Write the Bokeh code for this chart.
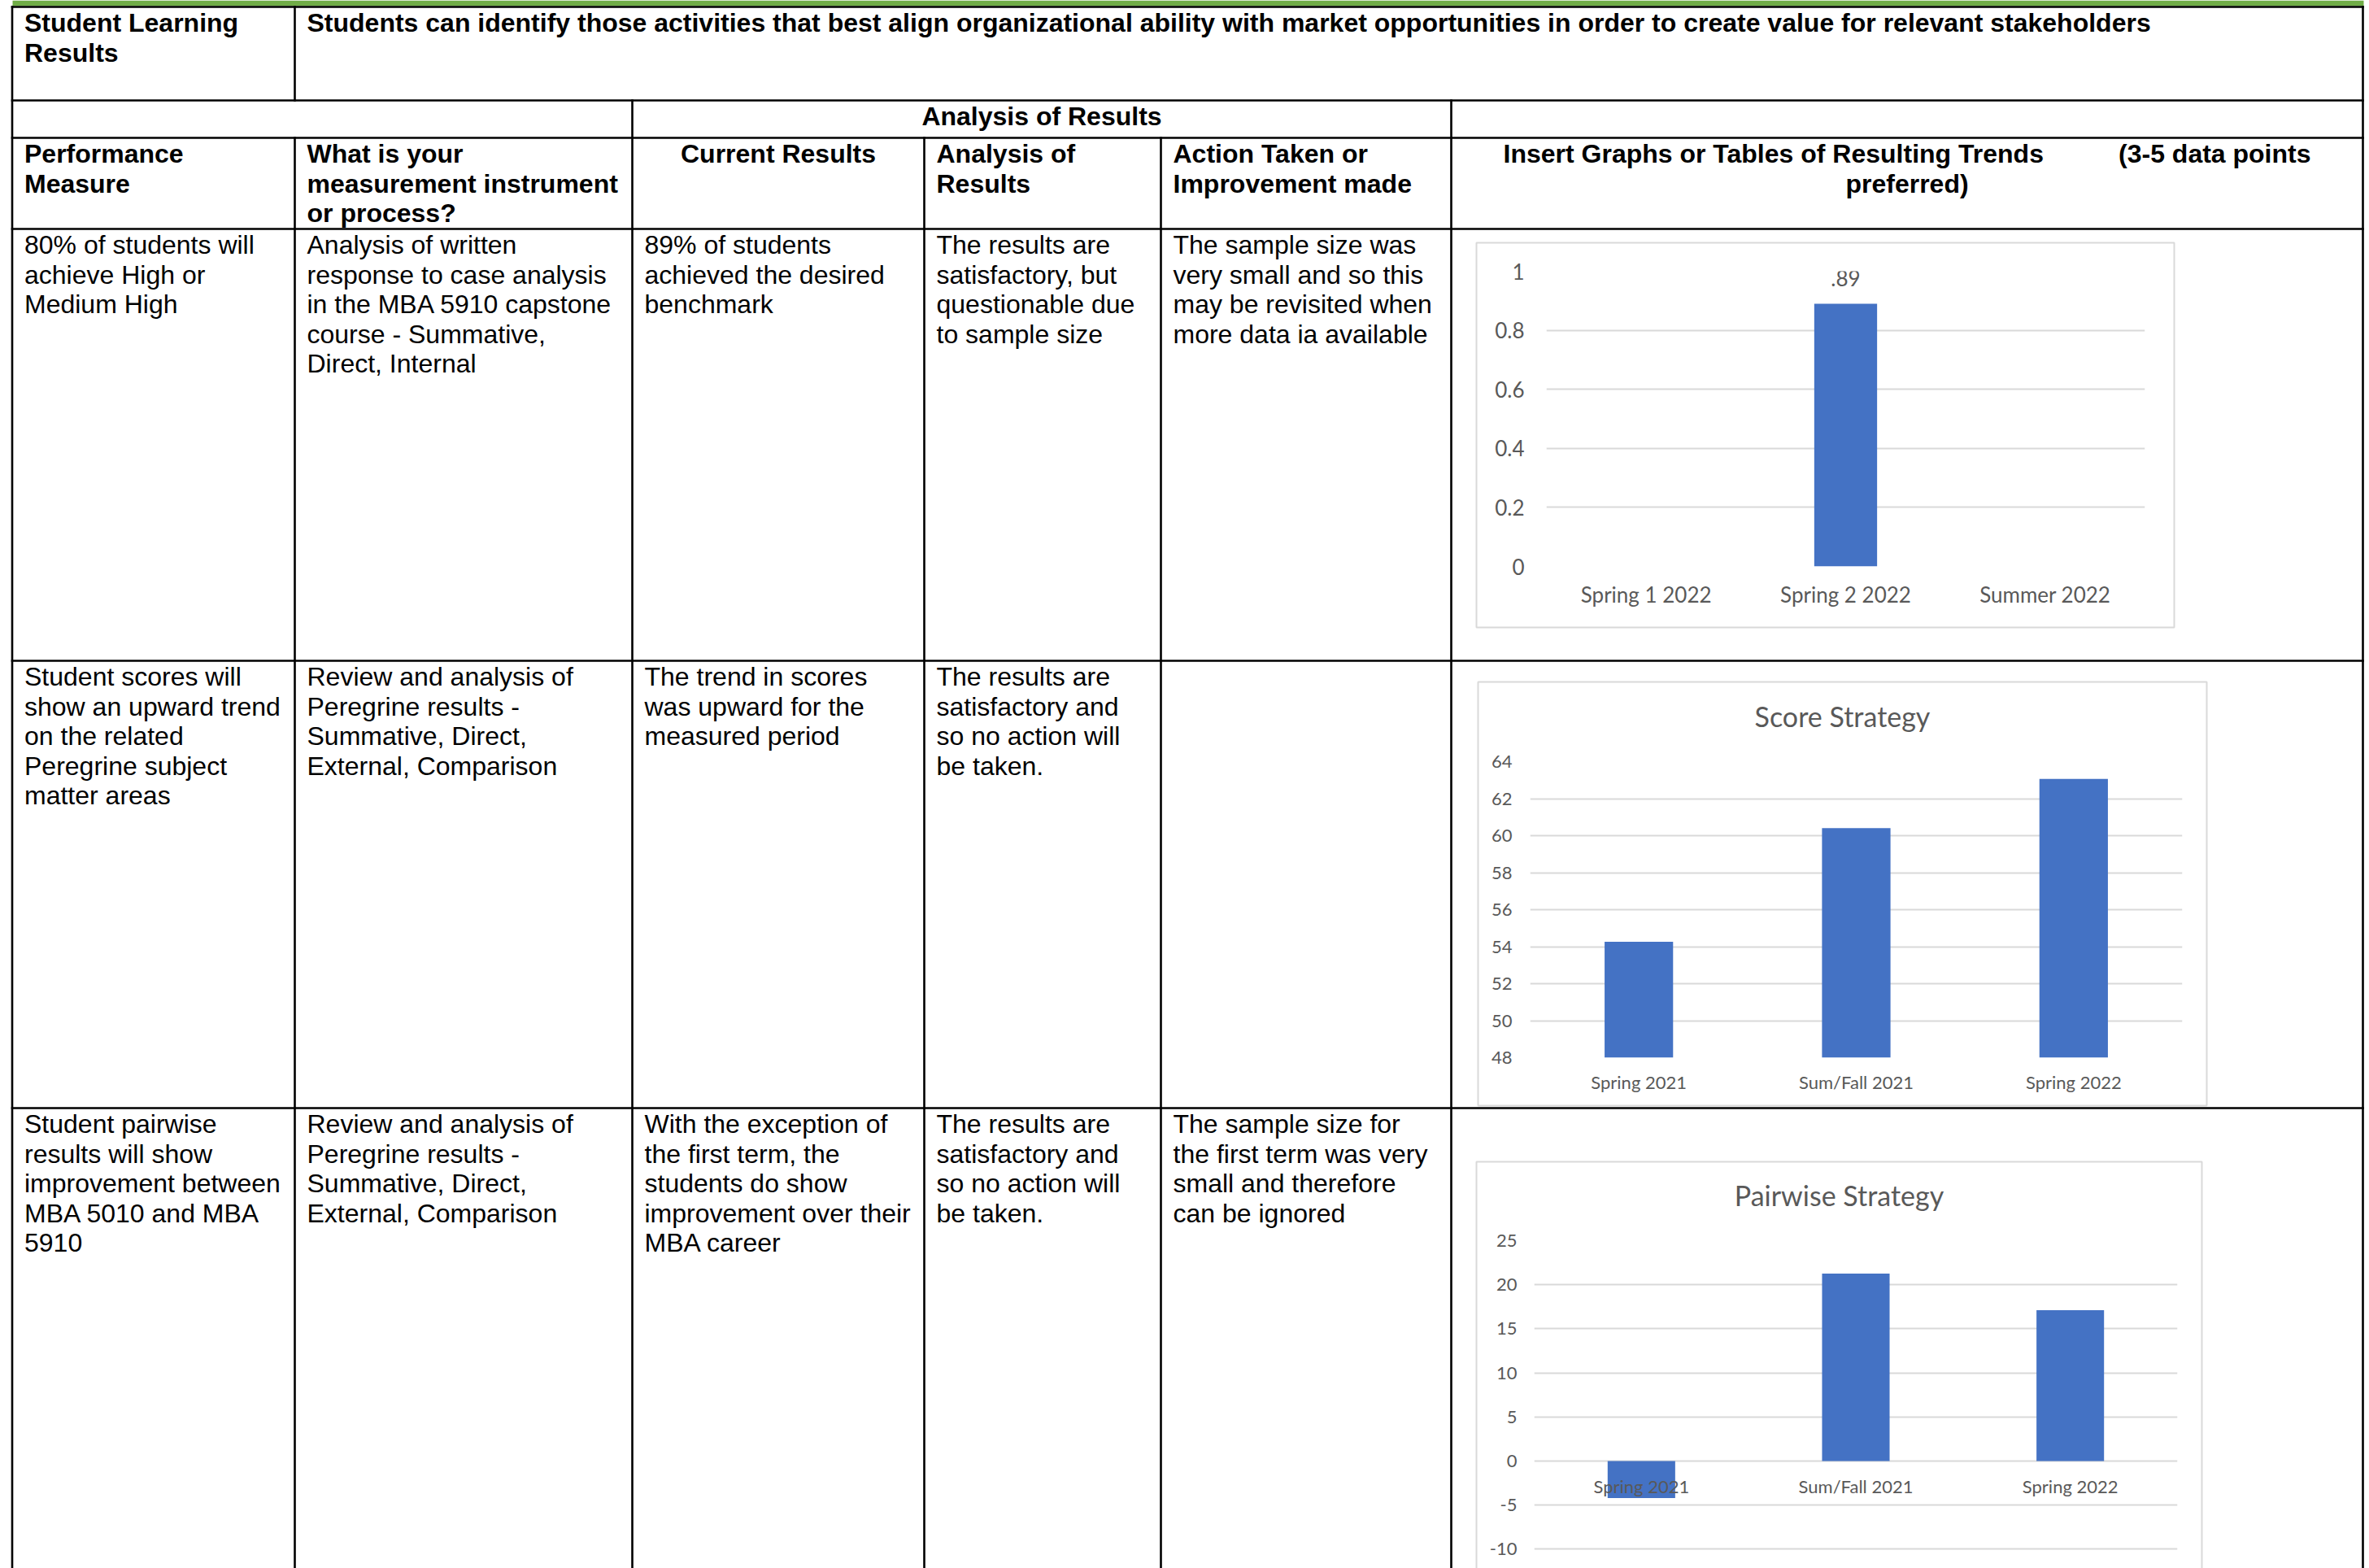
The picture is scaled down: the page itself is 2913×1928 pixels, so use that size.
import math
from bokeh.plotting import figure
from bokeh.layouts import column
from bokeh.models import ColumnDataSource, Range1d, FactorRange, FixedTicker, PrintfTickFormatter
from bokeh.core.properties import value
from bokeh.embed import file_html
from bokeh.resources import INLINE

W, H = 2913, 1928

# ---------------- data ----------------
outcome_label = ["Student Learning", "Results"]
outcome_text = ["Students can identify those activities that best align organizational "
                "ability with market opportunities in order to create value for relevant stakeholders"]
group_label = ["Analysis of Results"]
header_cells = [
    ["Performance", "Measure"],
    ["What is your", "measurement instrument", "or process?"],
    ["Current Results"],
    ["Analysis of", "Results"],
    ["Action Taken or", "Improvement made"],
]
graph_header_left = "Insert Graphs or Tables of Resulting Trends"
graph_header_right = "(3-5 data points"
graph_header_line2 = "preferred)"

measures = [
    ["80% of students will", "achieve High or", "Medium High"],
    ["Student scores will", "show an upward trend", "on the related", "Peregrine subject", "matter areas"],
    ["Student pairwise", "results will show", "improvement between", "MBA 5010 and MBA", "5910"],
]
instruments = [
    ["Analysis of written", "response to case analysis", "in the MBA 5910 capstone",
     "course - Summative,", "Direct, Internal"],
    ["Review and analysis of", "Peregrine results -", "Summative, Direct,", "External, Comparison"],
    ["Review and analysis of", "Peregrine results -", "Summative, Direct,", "External, Comparison"],
]
current_results = [
    ["89% of students", "achieved the desired", "benchmark"],
    ["The trend in scores", "was upward for the", "measured period"],
    ["With the exception of", "the first term, the", "students do show",
     "improvement over their", "MBA career"],
]
analyses = [
    ["The results are", "satisfactory, but", "questionable due", "to sample size"],
    ["The results are", "satisfactory and", "so no action will", "be taken."],
    ["The results are", "satisfactory and", "so no action will", "be taken."],
]
actions = [
    ["The sample size was", "very small and so this", "may be revisited when", "more data ia available"],
    [],
    ["The sample size for", "the first term was very", "small and therefore", "can be ignored"],
]

c1_categories = ["Spring 1 2022", "Spring 2 2022", "Summer 2022"]
c1_values = [float("nan"), 0.89, float("nan")]
c1_value_labels = ["", ".89", ""]
c1_ticks = [0, 0.2, 0.4, 0.6, 0.8, 1]
c1_tick_labels = ["0", "0.2", "0.4", "0.6", "0.8", "1"]

c2_title = "Score Strategy"
c2_categories = ["Spring 2021", "Sum/Fall 2021", "Spring 2022"]
c2_values = [54.26, 60.41, 63.07]
c2_ticks = [48, 50, 52, 54, 56, 58, 60, 62, 64]

c3_title = "Pairwise Strategy"
c3_categories = ["Spring 2021", "Sum/Fall 2021", "Spring 2022"]
c3_values = [-4.2, 21.27, 17.11]
c3_ticks = [-10, -5, 0, 5, 10, 15, 20, 25]

# ---------------- layout constants ----------------
COL = [14.5, 362, 777, 1136, 1427, 1784, 2905]
ROW = [8, 123, 169, 281, 812, 1362]
PAD = 15
FIRST_BASE = 19.5
LINE_H = 36.6
FONT = "Liberation Sans"
CHART_FONT = "Lato"
GRID = "#D9D9D9"
LABEL = "#595959"
BAR = "#4472C4"

BOX1 = (1815, 2673, 298, 771)
BOX2 = (1817, 2713, 838, 1359)
BOX3 = (1815, 2707, 1428, 1928)

# ---------------- table figure ----------------
table = figure(width=W, height=H, x_range=Range1d(0, W), y_range=Range1d(H, 0),
               output_backend="svg", toolbar_location=None, min_border=0,
               x_axis_location=None, y_axis_location=None)
table.grid.visible = False
table.outline_line_color = None
table.background_fill_color = "white"
table.border_fill_color = "white"

# green band at the top
table.quad(left=[15], right=[2906], top=[0], bottom=[7], fill_color="#70AD47", line_color=None)

# grey chart boxes
table.quad(left=[BOX1[0], BOX2[0], BOX3[0]], right=[BOX1[1], BOX2[1], BOX3[1]],
           top=[BOX1[2], BOX2[2], BOX3[2]], bottom=[BOX1[3], BOX2[3], BOX3[3] + 20],
           fill_color=None, line_color=GRID, line_width=2)

# table rules
hx0, hx1, hy = [], [], []
for y in ROW:
    hx0.append(COL[0]); hx1.append(COL[6]); hy.append(y)
table.segment(x0=hx0, x1=hx1, y0=hy, y1=hy, line_color="black", line_width=2.6, line_cap="square")

vx, vy0, vy1 = [], [], []
for x in (COL[0], COL[6]):
    vx.append(x); vy0.append(ROW[0]); vy1.append(H)
vx += [COL[1], COL[1]]; vy0 += [ROW[0], ROW[2]]; vy1 += [ROW[1], H]
for x in (COL[2], COL[5]):
    vx.append(x); vy0.append(ROW[1]); vy1.append(H)
for x in (COL[3], COL[4]):
    vx.append(x); vy0.append(ROW[2]); vy1.append(H)
table.segment(x0=vx, x1=vx, y0=vy0, y1=vy1, line_color="black", line_width=2.6, line_cap="square")

# text
groups = {}
def add(style, align, x, top, lines):
    d = groups.setdefault((style, align), {"x": [], "y": [], "t": []})
    for i, s in enumerate(lines):
        d["x"].append(x)
        d["y"].append(top + FIRST_BASE + i * LINE_H)
        d["t"].append(s)

add("bold", "left", COL[0] + PAD, ROW[0], outcome_label)
add("bold", "left", COL[1] + PAD, ROW[0], outcome_text)
add("bold", "center", (COL[2] + COL[5]) / 2, ROW[1], group_label)
for j, cell in enumerate(header_cells):
    if j == 2:
        add("bold", "center", (COL[2] + COL[3]) / 2, ROW[2], cell)
    else:
        add("bold", "left", COL[j] + PAD, ROW[2], cell)
add("bold", "left", 1848, ROW[2], [graph_header_left])
add("bold", "right", 2841, ROW[2], [graph_header_right])
add("bold", "center", (COL[5] + COL[6]) / 2, ROW[2] + LINE_H, [graph_header_line2])

for r in range(3):
    top = ROW[3 + r]
    for j, col_data in enumerate([measures, instruments, current_results, analyses, actions]):
        add("normal", "left", COL[j] + PAD, top, col_data[r])

for (style, align), d in groups.items():
    table.text(x=d["x"], y=d["y"], text=d["t"], text_font=value(FONT), text_font_style=style,
               text_align=align, text_baseline="alphabetic", text_font_size="32px", text_color="black")

# chart titles
table.text(x=[(BOX2[0] + BOX2[1]) / 2, (BOX3[0] + BOX3[1]) / 2], y=[880, 1469],
           text=[c2_title, c3_title], text_font=value(CHART_FONT), text_font_size="34px",
           text_color=LABEL, text_align="center", text_baseline="middle")


# ---------------- charts ----------------
def make_chart(cats, vals, ticks, box, frame, yr, tick_size, ystand, xstand=None):
    left, right, top, bottom = box
    fl, fr, ft, fb = frame
    p = figure(width=right - left, height=bottom - top,
               x_range=FactorRange(*cats), y_range=Range1d(*yr),
               output_backend="svg", toolbar_location=None,
               min_border_left=fl - left, min_border_right=right - fr,
               min_border_top=ft - top, min_border_bottom=bottom - fb,
               x_axis_location="below" if xstand is not None else None)
    p.background_fill_alpha = 0
    p.border_fill_alpha = 0
    p.outline_line_color = None
    p.xgrid.visible = False
    tk = FixedTicker(ticks=ticks)
    p.yaxis.ticker = tk
    p.ygrid.ticker = tk
    p.ygrid.grid_line_color = GRID
    p.ygrid.grid_line_width = 2
    axes = list(p.yaxis) + (list(p.xaxis) if xstand is not None else [])
    for ax in axes:
        ax.axis_line_color = None
        ax.major_tick_line_color = None
        ax.minor_tick_line_color = None
        ax.major_tick_out = 0
        ax.major_tick_in = 0
        ax.minor_tick_out = 0
        ax.major_label_text_font = CHART_FONT
        ax.major_label_text_font_size = tick_size
        ax.major_label_text_color = LABEL
    p.yaxis.major_label_standoff = ystand
    if xstand is not None:
        p.xaxis.major_label_standoff = xstand
    src = ColumnDataSource(dict(x=cats, top=vals))
    p.vbar(x="x", top="top", bottom=0, width=0.315, source=src, fill_color=BAR, line_color=None)
    wrapper = column(p, styles={"position": "absolute", "left": f"{left}px", "top": f"{top}px"})
    return p, wrapper


ch1, w1 = make_chart(c1_categories, c1_values, c1_ticks, BOX1, (1901, 2637, 333, 696),
                     (0, 1), "26px", 27, xstand=18)
ch1.yaxis.major_label_overrides = dict(zip(c1_ticks, c1_tick_labels))
ch1.text(x=c1_categories, y=c1_values, text=c1_value_labels, y_offset=-31,
         text_font=value(CHART_FONT), text_font_size="26px", text_color=LABEL,
         text_align="center", text_baseline="middle")

ch2, w2 = make_chart(c2_categories, c2_values, c2_ticks, BOX2, (1881, 2683, 936, 1300),
                     (48, 64), "22px", 22, xstand=16)
ch2.yaxis.formatter = PrintfTickFormatter(format="%d")

c3_top_px, c3_bottom_px, c3_px_per_unit = 1525, 1928, 10.84
c3_ymin = 25 - (c3_bottom_px - c3_top_px) / c3_px_per_unit
ch3, w3 = make_chart(c3_categories, c3_values, c3_ticks, BOX3, (1886, 2677, c3_top_px, c3_bottom_px),
                     (c3_ymin, 25), "22px", 21, xstand=None)
ch3.yaxis.formatter = PrintfTickFormatter(format="%d")
ch3.text(x=c3_categories, y=[0] * len(c3_categories), text=c3_categories, y_offset=31,
         text_font=value(CHART_FONT), text_font_size="22px", text_color=LABEL,
         text_align="center", text_baseline="middle")

root = column(column(table), w1, w2, w3,
              styles={"position": "absolute", "left": "0px", "top": "0px"})

open("out.html", "w").write(file_html(root, INLINE))
